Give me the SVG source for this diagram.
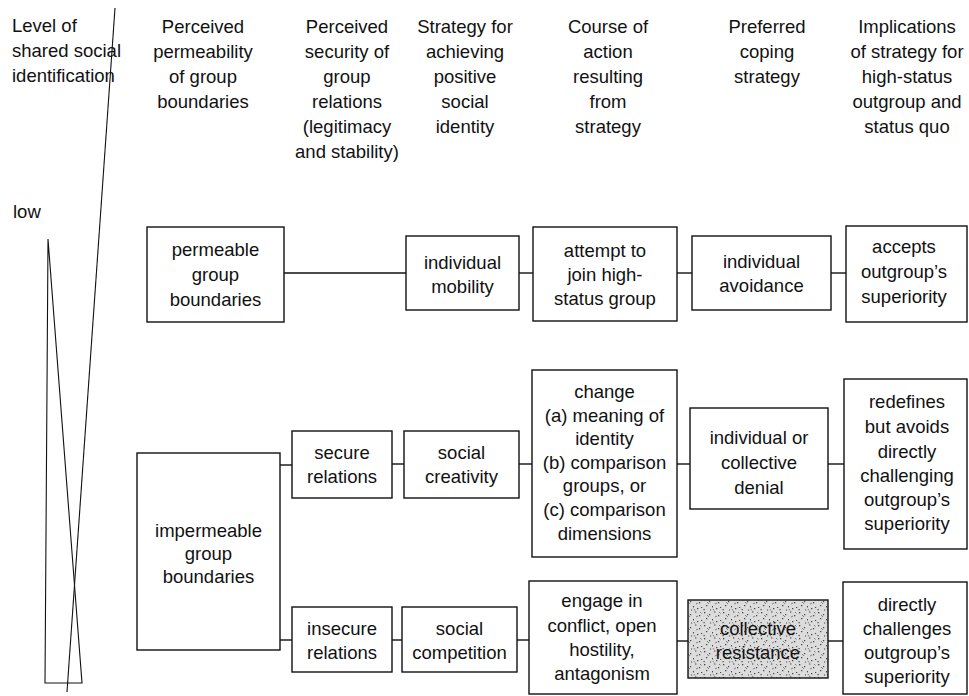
<svg xmlns="http://www.w3.org/2000/svg" width="969" height="696" viewBox="0 0 969 696">
<defs>
<style>
text{font-family:"Liberation Sans",Arial,sans-serif;font-size:18.5px;fill:#111}
.c{text-anchor:middle}
.box{fill:#fff;stroke:#111;stroke-width:1.4}
.ln{stroke:#111;stroke-width:1.4;fill:none}
.thin{stroke:#111;stroke-width:1.1;fill:none}
</style>
<pattern id="stip" width="19" height="13" patternUnits="userSpaceOnUse">
<rect width="19" height="13" fill="#dcdcdc"/>
<g fill="#444">
<rect x="1" y="1" width="1.3" height="1.3"/>
<rect x="6" y="3" width="1.2" height="1.2"/>
<rect x="11" y="0.5" width="1.4" height="1"/>
<rect x="15" y="4" width="1.2" height="1.3"/>
<rect x="3" y="7" width="1.3" height="1.2"/>
<rect x="9" y="8" width="1" height="1.4"/>
<rect x="13" y="10" width="1.3" height="1.2"/>
<rect x="17" y="9" width="1.2" height="1"/>
<rect x="0.5" y="11" width="1.2" height="1.2"/>
<rect x="7" y="11.5" width="1.1" height="1"/>
</g>
<g stroke="#666" stroke-width="0.8">
<line x1="4" y1="4" x2="6" y2="6"/>
<line x1="12" y1="6" x2="14" y2="5"/>
<line x1="16" y1="1" x2="17.5" y2="2.5"/>
<line x1="10" y1="11" x2="11" y2="12.5"/>
</g>
</pattern>
</defs>
<rect width="969" height="696" fill="#fff"/>

<g id="scale">
<line class="thin" x1="115" y1="8" x2="67" y2="692"/>
<polygon class="thin" points="48,239 45,683 82,683"/>
<text x="13" y="218">low</text>
</g>

<g id="headers">
<text x="12" y="32"><tspan x="12">Level of</tspan><tspan x="12" dy="25">shared social</tspan><tspan x="12" dy="25">identification</tspan></text>
<text class="c" y="33"><tspan x="203">Perceived</tspan><tspan x="203" dy="25">permeability</tspan><tspan x="203" dy="25">of group</tspan><tspan x="203" dy="25">boundaries</tspan></text>
<text class="c" y="33"><tspan x="347">Perceived</tspan><tspan x="347" dy="25">security of</tspan><tspan x="347" dy="25">group</tspan><tspan x="347" dy="25">relations</tspan><tspan x="347" dy="25">(legitimacy</tspan><tspan x="347" dy="25">and stability)</tspan></text>
<text class="c" y="33"><tspan x="465">Strategy for</tspan><tspan x="465" dy="25">achieving</tspan><tspan x="465" dy="25">positive</tspan><tspan x="465" dy="25">social</tspan><tspan x="465" dy="25">identity</tspan></text>
<text class="c" y="33"><tspan x="608">Course of</tspan><tspan x="608" dy="25">action</tspan><tspan x="608" dy="25">resulting</tspan><tspan x="608" dy="25">from</tspan><tspan x="608" dy="25">strategy</tspan></text>
<text class="c" y="33"><tspan x="767">Preferred</tspan><tspan x="767" dy="25">coping</tspan><tspan x="767" dy="25">strategy</tspan></text>
<text class="c" y="33"><tspan x="907">Implications</tspan><tspan x="907" dy="25">of strategy for</tspan><tspan x="907" dy="25">high-status</tspan><tspan x="907" dy="25">outgroup and</tspan><tspan x="907" dy="25">status quo</tspan></text>
</g>

<g id="connectors">
<line class="ln" x1="284" y1="273" x2="406" y2="273"/>
<line class="ln" x1="519" y1="273" x2="533" y2="273"/>
<line class="ln" x1="677" y1="273" x2="692" y2="273"/>
<line class="ln" x1="831" y1="273" x2="846" y2="273"/>
<line class="ln" x1="280" y1="465" x2="292" y2="465"/>
<line class="ln" x1="392" y1="464" x2="404" y2="464"/>
<line class="ln" x1="519" y1="464" x2="532" y2="464"/>
<line class="ln" x1="677" y1="464" x2="690" y2="464"/>
<line class="ln" x1="828" y1="464" x2="844" y2="464"/>
<line class="ln" x1="280" y1="640" x2="292" y2="640"/>
<line class="ln" x1="392" y1="640" x2="402" y2="640"/>
<line class="ln" x1="517" y1="640" x2="529" y2="640"/>
<line class="ln" x1="677" y1="641" x2="688" y2="641"/>
<line class="ln" x1="828" y1="641" x2="843" y2="641"/>
</g>

<g id="permeable">
<rect class="box" x="147" y="227" width="137" height="95"/>
<text class="c"><tspan x="215.5" y="256">permeable</tspan><tspan x="215.5" y="281">group</tspan><tspan x="215.5" y="306">boundaries</tspan></text>
</g>
<g id="mobility">
<rect class="box" x="406" y="236" width="113" height="74"/>
<text class="c"><tspan x="462.5" y="269">individual</tspan><tspan x="462.5" y="293">mobility</tspan></text>
</g>
<g id="attempt">
<rect class="box" x="533" y="227" width="144" height="94"/>
<text class="c"><tspan x="605" y="257">attempt to</tspan><tspan x="605" y="281">join high-</tspan><tspan x="605" y="305">status group</tspan></text>
</g>
<g id="avoidance">
<rect class="box" x="692" y="236" width="139" height="74"/>
<text class="c"><tspan x="761.5" y="268">individual</tspan><tspan x="761.5" y="292">avoidance</tspan></text>
</g>
<g id="accepts">
<rect class="box" x="846" y="226" width="121" height="96"/>
<text class="c"><tspan x="904" y="253">accepts</tspan><tspan x="904" y="278">outgroup’s</tspan><tspan x="904" y="303">superiority</tspan></text>
</g>

<g id="impermeable">
<rect class="box" x="137" y="453" width="143" height="197"/>
<text class="c"><tspan x="208.5" y="537">impermeable</tspan><tspan x="208.5" y="560">group</tspan><tspan x="208.5" y="583">boundaries</tspan></text>
</g>
<g id="secure">
<rect class="box" x="292" y="431" width="100" height="67"/>
<text class="c"><tspan x="342" y="459">secure</tspan><tspan x="342" y="483">relations</tspan></text>
</g>
<g id="creativity">
<rect class="box" x="404" y="431" width="115" height="67"/>
<text class="c"><tspan x="461.5" y="459">social</tspan><tspan x="461.5" y="483">creativity</tspan></text>
</g>
<g id="change">
<rect class="box" x="532" y="370" width="145" height="187"/>
<text class="c"><tspan x="604.5" y="398">change</tspan><tspan x="604.5" y="422">(a) meaning of</tspan><tspan x="604.5" y="445">identity</tspan><tspan x="604.5" y="469">(b) comparison</tspan><tspan x="604.5" y="492">groups, or</tspan><tspan x="604.5" y="516">(c) comparison</tspan><tspan x="604.5" y="540">dimensions</tspan></text>
</g>
<g id="denial">
<rect class="box" x="690" y="408" width="138" height="101"/>
<text class="c"><tspan x="759" y="444">individual or</tspan><tspan x="759" y="469">collective</tspan><tspan x="759" y="494">denial</tspan></text>
</g>
<g id="redefines">
<rect class="box" x="844" y="379" width="123" height="170"/>
<text class="c"><tspan x="907" y="408">redefines</tspan><tspan x="907" y="433">but avoids</tspan><tspan x="907" y="458">directly</tspan><tspan x="907" y="482">challenging</tspan><tspan x="907" y="506">outgroup’s</tspan><tspan x="907" y="530">superiority</tspan></text>
</g>

<g id="insecure">
<rect class="box" x="292" y="607" width="100" height="65"/>
<text class="c"><tspan x="342" y="635">insecure</tspan><tspan x="342" y="659">relations</tspan></text>
</g>
<g id="competition">
<rect class="box" x="402" y="607" width="115" height="65"/>
<text class="c"><tspan x="459.5" y="635">social</tspan><tspan x="459.5" y="659">competition</tspan></text>
</g>
<g id="engage">
<rect class="box" x="529" y="581" width="148" height="113"/>
<text class="c"><tspan x="602" y="607">engage in</tspan><tspan x="602" y="632">conflict, open</tspan><tspan x="602" y="656">hostility,</tspan><tspan x="602" y="680">antagonism</tspan></text>
</g>
<g id="resistance">
<rect x="688" y="600" width="140" height="78" fill="url(#stip)" stroke="#111" stroke-width="1.4"/>
<text class="c"><tspan x="758" y="635">collective</tspan><tspan x="758" y="659">resistance</tspan></text>
</g>
<g id="challenges">
<rect class="box" x="843" y="582" width="124" height="112"/>
<text class="c"><tspan x="907" y="611">directly</tspan><tspan x="907" y="635">challenges</tspan><tspan x="907" y="659">outgroup’s</tspan><tspan x="907" y="683">superiority</tspan></text>
</g>
</svg>
